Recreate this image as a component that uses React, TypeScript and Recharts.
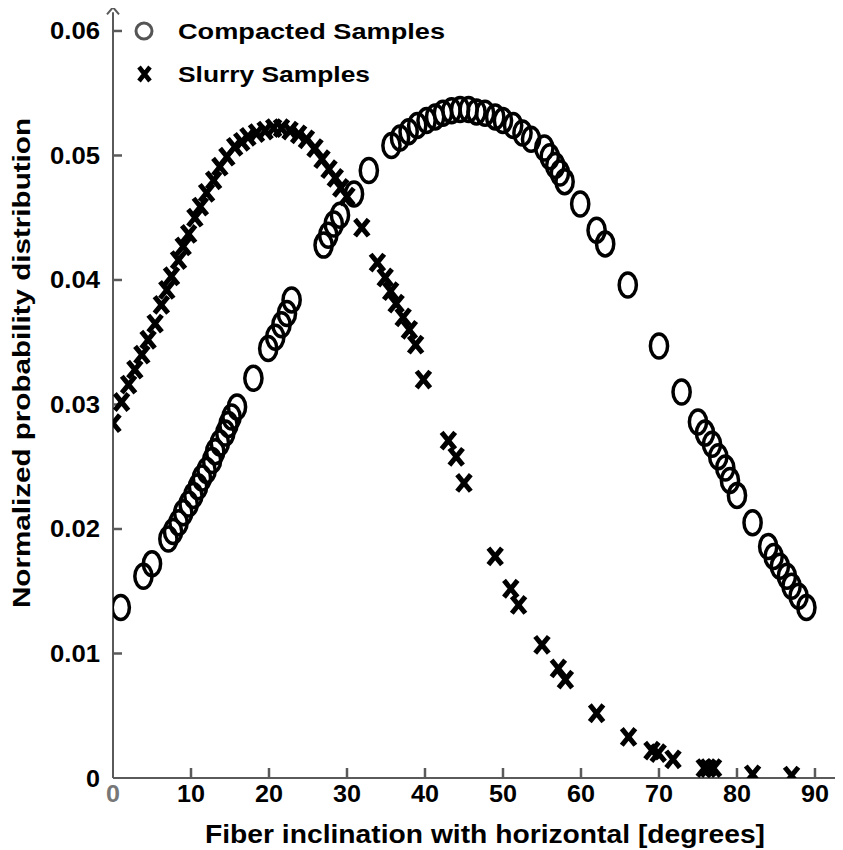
import React from "react";
import { ScatterChart, Scatter, XAxis, YAxis, Legend, ReferenceDot } from "recharts";

const compactedDeg = [1.0, 3.9, 5.0, 7.1, 7.7, 8.4, 9.0, 9.7, 10.3, 10.9, 11.4, 12.0, 12.7, 13.1, 13.7, 14.4, 14.8, 15.2, 15.9, 18.0, 19.9, 20.8, 21.6, 22.3, 22.9, 27.0, 27.6, 28.3, 29.1, 30.9, 32.8, 35.7, 36.8, 37.9, 39.0, 40.2, 41.3, 42.3, 43.4, 44.5, 45.6, 46.6, 47.7, 49.0, 50.0, 51.3, 52.5, 53.6, 55.3, 56.0, 56.7, 57.3, 57.9, 59.9, 62.0, 63.1, 66.0, 70.0, 72.9, 75.0, 75.9, 76.8, 77.6, 78.5, 79.1, 80.0, 82.0, 84.0, 84.7, 85.5, 86.4, 87.0, 87.9, 88.9];
const compactedVal = [0.0137, 0.0162, 0.0172, 0.0192, 0.0198, 0.0205, 0.0213, 0.022, 0.0227, 0.0234, 0.0241, 0.0247, 0.0255, 0.0262, 0.0269, 0.0277, 0.0284, 0.029, 0.0298, 0.0321, 0.0345, 0.0354, 0.0364, 0.0373, 0.0384, 0.0428, 0.0436, 0.0445, 0.0452, 0.0469, 0.0488, 0.0508, 0.0514, 0.0519, 0.0524, 0.0528, 0.0531, 0.0534, 0.0536, 0.0537, 0.0537, 0.0535, 0.0534, 0.0531, 0.0528, 0.0524, 0.0518, 0.0513, 0.0506, 0.0499, 0.0492, 0.0486, 0.0479, 0.0461, 0.044, 0.0429, 0.0396, 0.0347, 0.031, 0.0286, 0.0277, 0.0268, 0.0258, 0.0249, 0.0239, 0.0227, 0.0205, 0.0186, 0.0178, 0.017, 0.0162, 0.0154, 0.0146, 0.0137];

const slurryDeg = [0.0, 1.1, 2.0, 2.8, 3.7, 4.5, 5.4, 6.2, 6.9, 7.5, 8.4, 9.0, 9.7, 10.5, 11.2, 12.0, 12.9, 13.7, 14.6, 15.6, 16.5, 17.3, 18.4, 19.5, 20.6, 21.6, 22.7, 23.8, 24.8, 25.9, 26.8, 27.7, 28.5, 29.2, 30.0, 31.9, 33.9, 34.9, 35.6, 36.3, 37.2, 38.0, 38.8, 39.8, 43.0, 44.0, 45.0, 49.0, 51.0, 52.0, 55.0, 57.1, 58.0, 62.0, 66.1, 69.1, 69.9, 71.8, 75.8, 76.3, 77.0, 82.0, 87.0];
const slurryVal = [0.0285, 0.0302, 0.0316, 0.0328, 0.034, 0.0352, 0.0365, 0.038, 0.0392, 0.0403, 0.0416, 0.0427, 0.0437, 0.045, 0.0459, 0.047, 0.048, 0.0491, 0.0499, 0.0507, 0.0511, 0.0515, 0.0518, 0.052, 0.0522, 0.0522, 0.052, 0.0517, 0.0513, 0.0506, 0.0497, 0.0489, 0.0482, 0.0474, 0.0467, 0.0442, 0.0414, 0.0402, 0.0391, 0.0381, 0.037, 0.036, 0.0348, 0.032, 0.0271, 0.0258, 0.0237, 0.0178, 0.0152, 0.0139, 0.0107, 0.0088, 0.0079, 0.0052, 0.0033, 0.0022, 0.002, 0.0015, 0.0008, 0.0008, 0.0008, 0.0003, 0.0002];

const xTicks = [0, 10, 20, 30, 40, 50, 60, 70, 80, 90];
const yTicks = [0, 0.01, 0.02, 0.03, 0.04, 0.05, 0.06];
const seriesNames = ["Compacted Samples", "Slurry Samples"];
const xTitle = "Fiber inclination with horizontal  [degrees]";
const yTitle = "Normalized probability distribution";

const X_MAX = 93.4;
const Y_MAX = 0.0615;

const compactedData = compactedDeg.map((x, i) => ({ x, y: compactedVal[i] }));
const slurryData = slurryDeg.map((x, i) => ({ x, y: slurryVal[i] }));

const FONT = "'Liberation Sans', Arial, Helvetica, sans-serif";
const AXIS = "#5a5a5a";

const CircleShape = (props: any) => {
  const { cx, cy } = props;
  if (cx == null || cy == null) return null;
  return <ellipse cx={cx} cy={cy} rx={8.6} ry={12} fill="none" stroke="#000" strokeWidth={3.5} />;
};

const CrossShape = (props: any) => {
  const { cx, cy } = props;
  if (cx == null || cy == null) return null;
  const w = 6.8, h = 8.3;
  return (
    <path
      d={`M${cx - w},${cy - h}L${cx + w},${cy + h}M${cx - w},${cy + h}L${cx + w},${cy - h}`}
      stroke="#000"
      strokeWidth={5}
      fill="none"
    />
  );
};

const XTickMark = (props: any) => {
  const { cx, cy } = props;
  return <polyline points={`${cx},${cy} ${cx},${cy - 10}`} fill="none" stroke={AXIS} strokeWidth={2.5} />;
};

const YTickMark = (props: any) => {
  const { cx, cy } = props;
  return <polyline points={`${cx},${cy} ${cx + 9},${cy}`} fill="none" stroke={AXIS} strokeWidth={2.5} />;
};

const XTick = (props: any) => {
  const { x, y, payload } = props;
  const v = payload.value;
  const label = String(v);
  return (
    <text
      x={x}
      y={y + 15}
      textAnchor="middle"
      dominantBaseline="central"
      fontFamily={FONT}
      fontWeight="bold"
      fontSize={24}
      fill={v === 0 ? "#777" : "#000"}
      stroke="none"
      textLength={label.length === 1 ? 14 : 28}
      lengthAdjust="spacingAndGlyphs"
    >
      {label}
    </text>
  );
};

const YTick = (props: any) => {
  const { x, y, payload } = props;
  const v = payload.value;
  const label = v === 0 ? "0" : v.toFixed(2);
  return (
    <text
      x={x - 13}
      y={y}
      textAnchor="end"
      dominantBaseline="central"
      fontFamily={FONT}
      fontWeight="bold"
      fontSize={24}
      fill="#000"
      stroke="none"
      textLength={label.length === 1 ? 14 : 50}
      lengthAdjust="spacingAndGlyphs"
    >
      {label}
    </text>
  );
};

const RightArrow = (props: any) => {
  const { cx, cy } = props;
  return <polyline points={`${cx - 6},${cy - 6} ${cx + 1},${cy} ${cx - 6},${cy + 6}`} fill="none" stroke={AXIS} strokeWidth={2} />;
};

const UpArrow = (props: any) => {
  const { cx, cy } = props;
  return <polyline points={`${cx - 6},${cy + 2} ${cx},${cy - 5} ${cx + 6},${cy + 2}`} fill="none" stroke={AXIS} strokeWidth={2} />;
};

const renderLegend = (props: any) => {
  const payload = props.payload || [];
  return (
    <svg width={460} height={100} style={{ display: "block" }}>
      {payload.map((p: any, i: number) => {
        const cy = i === 0 ? 23 : 66;
        return (
          <g key={i}>
            {i === 0 ? (
              <circle cx={136} cy={cy} r={8} fill="none" stroke="#555" strokeWidth={3} />
            ) : (
              <path
                d={`M131,${cy - 7}L142,${cy + 7}M131,${cy + 7}L142,${cy - 7}`}
                stroke="#000"
                strokeWidth={4.5}
                fill="none"
              />
            )}
            <text
              x={170}
              y={cy}
              dominantBaseline="central"
              fontFamily={FONT}
              fontWeight="bold"
              fontSize={22}
              fill="#000"
              textLength={i === 0 ? 267 : 192}
              lengthAdjust="spacingAndGlyphs"
            >
              {seriesNames[i]}
            </text>
          </g>
        );
      })}
    </svg>
  );
};

export default function App() {
  return (
    <ScatterChart width={835} height={842} margin={{ top: 4.3, right: 1.5, bottom: 0, left: 0 }}>
      <XAxis
        type="number"
        dataKey="x"
        domain={[0, X_MAX]}
        ticks={xTicks}
        interval={0}
        tickSize={0}
        tickMargin={0}
        tickLine={false}
        tick={<XTick />}
        axisLine={{ stroke: AXIS, strokeWidth: 2 }}
        height={72}
        allowDataOverflow
        label={{
          content: (p: any) => {
            const vb = p.viewBox || { x: 105, y: 770 };
            return (
              <text
                x={vb.x + 372}
                y={vb.y + 56}
                textAnchor="middle"
                dominantBaseline="central"
                fontFamily={FONT}
                fontWeight="bold"
                fontSize={25}
                fill="#000"
                textLength={560}
                lengthAdjust="spacingAndGlyphs"
              >
                {xTitle}
              </text>
            );
          },
        }}
      />
      <YAxis
        type="number"
        dataKey="y"
        domain={[0, Y_MAX]}
        ticks={yTicks}
        interval={0}
        width={105}
        tickSize={0}
        tickMargin={0}
        tickLine={false}
        tick={<YTick />}
        axisLine={{ stroke: AXIS, strokeWidth: 2 }}
        allowDataOverflow
        label={{
          content: () => (
            <text
              x={13.5}
              y={355}
              transform="rotate(-90 13.5 355)"
              textAnchor="middle"
              dominantBaseline="central"
              fontFamily={FONT}
              fontWeight="bold"
              fontSize={24}
              fill="#000"
              textLength={490}
              lengthAdjust="spacingAndGlyphs"
            >
              {yTitle}
            </text>
          ),
        }}
      />
      <Legend
        layout="horizontal"
        verticalAlign="middle"
        align="center"
        content={renderLegend}
        wrapperStyle={{ left: 0, top: 0, width: 460, height: 100 }}
      />
      <ReferenceDot x={10} y={0} ifOverflow="visible" shape={<XTickMark />} />
      <ReferenceDot x={20} y={0} ifOverflow="visible" shape={<XTickMark />} />
      <ReferenceDot x={30} y={0} ifOverflow="visible" shape={<XTickMark />} />
      <ReferenceDot x={40} y={0} ifOverflow="visible" shape={<XTickMark />} />
      <ReferenceDot x={50} y={0} ifOverflow="visible" shape={<XTickMark />} />
      <ReferenceDot x={60} y={0} ifOverflow="visible" shape={<XTickMark />} />
      <ReferenceDot x={70} y={0} ifOverflow="visible" shape={<XTickMark />} />
      <ReferenceDot x={80} y={0} ifOverflow="visible" shape={<XTickMark />} />
      <ReferenceDot x={90} y={0} ifOverflow="visible" shape={<XTickMark />} />
      <ReferenceDot x={0} y={0.01} ifOverflow="visible" shape={<YTickMark />} />
      <ReferenceDot x={0} y={0.02} ifOverflow="visible" shape={<YTickMark />} />
      <ReferenceDot x={0} y={0.03} ifOverflow="visible" shape={<YTickMark />} />
      <ReferenceDot x={0} y={0.04} ifOverflow="visible" shape={<YTickMark />} />
      <ReferenceDot x={0} y={0.05} ifOverflow="visible" shape={<YTickMark />} />
      <ReferenceDot x={0} y={0.06} ifOverflow="visible" shape={<YTickMark />} />
      <ReferenceDot x={X_MAX} y={0} ifOverflow="visible" shape={<RightArrow />} />
      <ReferenceDot x={0} y={Y_MAX} ifOverflow="visible" shape={<UpArrow />} />
      <Scatter name={seriesNames[0]} data={compactedData} shape={<CircleShape />} isAnimationActive={false} />
      <Scatter name={seriesNames[1]} data={slurryData} shape={<CrossShape />} isAnimationActive={false} />
    </ScatterChart>
  );
}
